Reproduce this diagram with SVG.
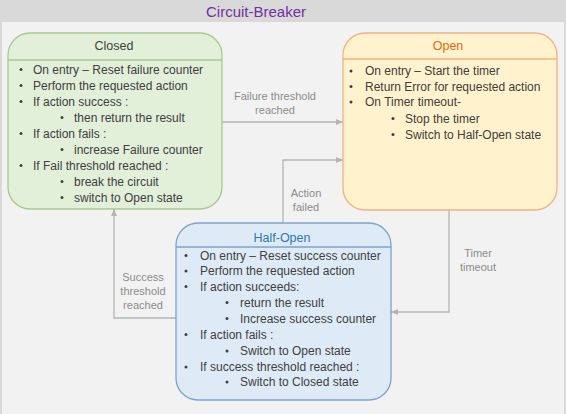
<svg xmlns="http://www.w3.org/2000/svg" width="566" height="414" viewBox="0 0 566 414">
<defs>
<style>
.t{font-family:"Liberation Sans",Arial,sans-serif;font-size:12px;fill:#404040}
.h{font-family:"Liberation Sans",Arial,sans-serif;font-size:12.5px;text-anchor:middle}
.l{font-family:"Liberation Sans",Arial,sans-serif;font-size:11px;fill:#8c8c8c;text-anchor:middle}
.c{fill:none;stroke:#b4b4b4;stroke-width:1.3}
.b{fill:#404040}
</style>
<marker id="ah" markerWidth="8" markerHeight="8" refX="7" refY="4" orient="auto" markerUnits="userSpaceOnUse">
<path d="M0,1 L7,4 L0,7 Z" fill="#b4b4b4"/>
</marker>
</defs>
<rect x="0" y="0" width="566" height="414" fill="#d9d9d9"/>
<rect x="2" y="22" width="562" height="392" fill="#f2f2f2"/>
<text x="256" y="17" font-family="Liberation Sans,Arial,sans-serif" font-size="15" fill="#7030a0" text-anchor="middle">Circuit-Breaker</text>

<g id="connectors">
<line class="c" x1="222" y1="122" x2="343" y2="122" marker-end="url(#ah)"/>
<text class="l" x="275" y="100">Failure threshold</text>
<text class="l" x="275" y="114">reached</text>
<polyline class="c" points="283,223 283,160 343,160" marker-end="url(#ah)"/>
<text class="l" x="306" y="197">Action</text>
<text class="l" x="306" y="211">failed</text>
<polyline class="c" points="449,210 449,312 391,312" marker-end="url(#ah)"/>
<text class="l" x="478" y="257">Timer</text>
<text class="l" x="478" y="271">timeout</text>
<polyline class="c" points="176,318 114,318 114,209" marker-end="url(#ah)"/>
<text class="l" x="143" y="281">Success</text>
<text class="l" x="143" y="295">threshold</text>
<text class="l" x="143" y="309">reached</text>
</g>

<g id="closed">
<rect x="8" y="33" width="214" height="176" rx="22" fill="#e2efd9" stroke="#a9c98f" stroke-width="1.3"/>
<line x1="8" y1="60" x2="222" y2="60" stroke="#a9c98f" stroke-width="1.3"/>
<text class="h" x="114" y="49.5" fill="#404040">Closed</text>
<g class="t">
<text x="33" y="73.5">On entry – Reset failure counter</text>
<text x="33" y="89.5">Perform the requested action</text>
<text x="33" y="105.5">If action success :</text>
<text x="74" y="121.5">then return the result</text>
<text x="33" y="137.5">If action fails :</text>
<text x="74" y="153.5">increase Failure counter</text>
<text x="33" y="169.5">If  Fail threshold reached :</text>
<text x="74" y="185.5">break the circuit</text>
<text x="74" y="201.5">switch to Open state</text>
</g>
<g class="b">
<circle cx="21" cy="69.5" r="1.5"/><circle cx="21" cy="85.5" r="1.5"/><circle cx="21" cy="101.5" r="1.5"/>
<circle cx="62" cy="117.5" r="1.5"/><circle cx="21" cy="133.5" r="1.5"/><circle cx="62" cy="149.5" r="1.5"/>
<circle cx="21" cy="165.5" r="1.5"/><circle cx="62" cy="181.5" r="1.5"/><circle cx="62" cy="197.5" r="1.5"/>
</g>
</g>

<g id="open">
<rect x="343" y="33" width="214" height="177" rx="22" fill="#fff2cc" stroke="#f4b183" stroke-width="1.3"/>
<line x1="343" y1="59" x2="557" y2="59" stroke="#f4b183" stroke-width="1.3"/>
<text class="h" x="448" y="49.5" fill="#e46c0a">Open</text>
<g class="t">
<text x="365" y="75">On entry – Start the timer</text>
<text x="365" y="90.5">Return Error for requested action</text>
<text x="365" y="106">On Timer  timeout-</text>
<text x="405" y="122.5">Stop the timer</text>
<text x="405" y="138.5">Switch to Half-Open state</text>
</g>
<g class="b">
<circle cx="351" cy="71" r="1.5"/><circle cx="351" cy="86.5" r="1.5"/><circle cx="351" cy="102" r="1.5"/>
<circle cx="393" cy="118.5" r="1.5"/><circle cx="393" cy="134.5" r="1.5"/>
</g>
</g>

<g id="half-open">
<rect x="176" y="223" width="215" height="177" rx="22" fill="#deebf7" stroke="#7da2cf" stroke-width="1.3"/>
<line x1="176" y1="247" x2="391" y2="247" stroke="#7da2cf" stroke-width="1.3"/>
<text class="h" x="282" y="241.5" fill="#2e75b6">Half-Open</text>
<g class="t">
<text x="200" y="259.5">On entry – Reset success counter</text>
<text x="200" y="275">Perform the requested action</text>
<text x="200" y="290.5">If action succeeds:</text>
<text x="240" y="306.5">return the result</text>
<text x="240" y="322.5">Increase success counter</text>
<text x="200" y="338.5">If action fails :</text>
<text x="240" y="355">Switch to Open state</text>
<text x="200" y="371">If success threshold reached :</text>
<text x="240" y="386">Switch to Closed state</text>
</g>
<g class="b">
<circle cx="186" cy="255.5" r="1.5"/><circle cx="186" cy="271" r="1.5"/><circle cx="186" cy="286.5" r="1.5"/>
<circle cx="227" cy="302.5" r="1.5"/><circle cx="227" cy="318.5" r="1.5"/><circle cx="186" cy="334.5" r="1.5"/>
<circle cx="227" cy="351" r="1.5"/><circle cx="186" cy="367" r="1.5"/><circle cx="227" cy="382" r="1.5"/>
</g>
</g>
</svg>
